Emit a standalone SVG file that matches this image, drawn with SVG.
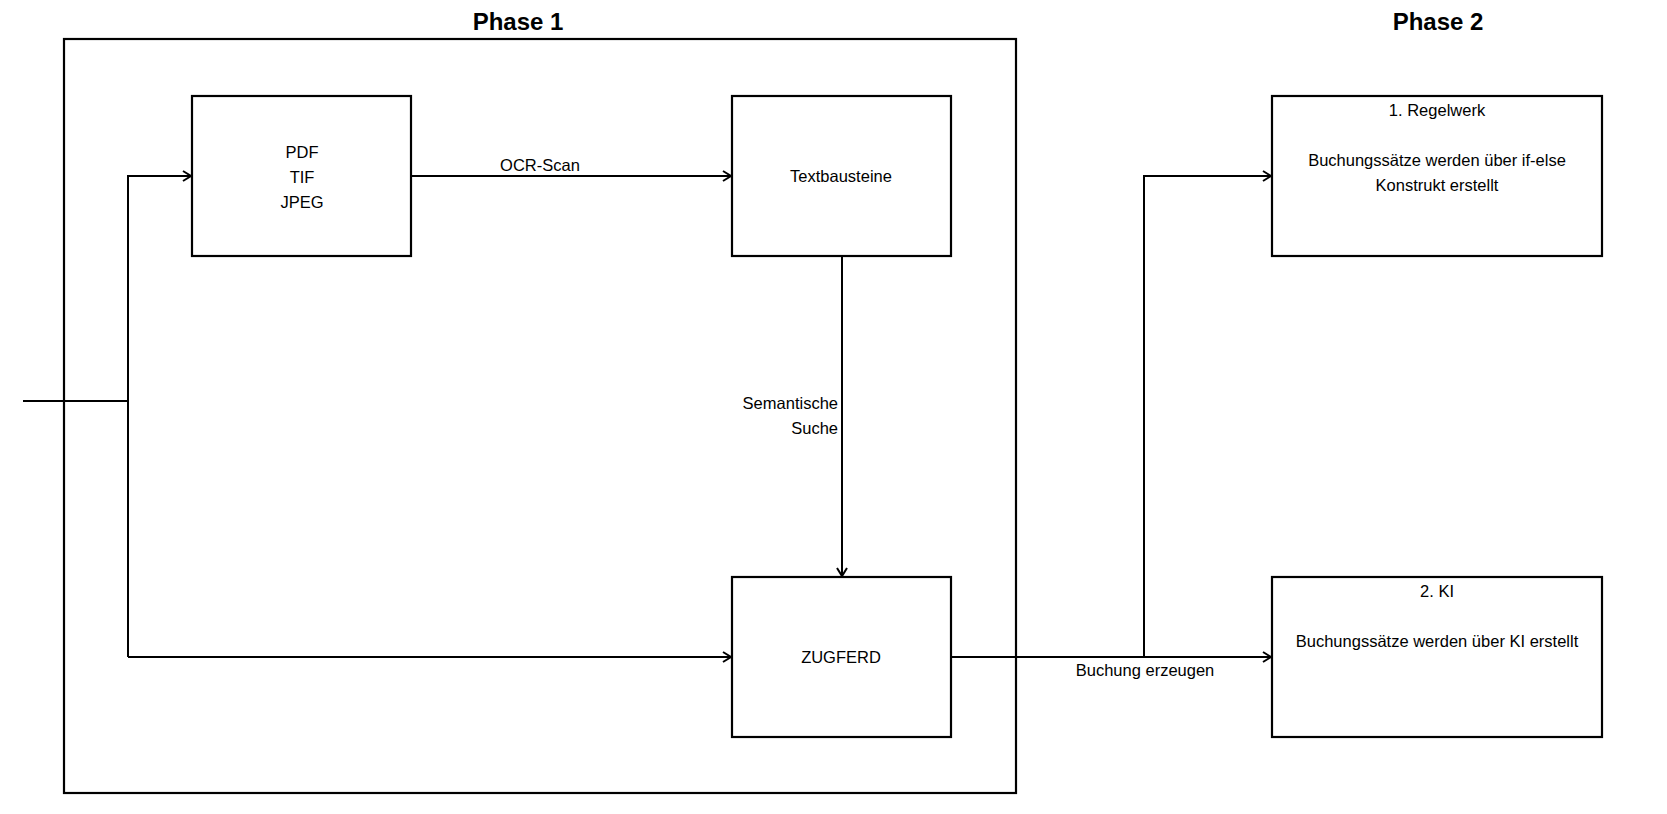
<svg xmlns="http://www.w3.org/2000/svg" width="1667" height="814" viewBox="0 0 1667 814">
  <style>
    .box { fill: #ffffff; stroke: #000000; stroke-width: 2.2; }
    .frame { fill: none; stroke: #000000; stroke-width: 2.2; }
    .conn { fill: none; stroke: #000000; stroke-width: 2; }
    .t { font-family: "Liberation Sans", Arial, sans-serif; font-size: 16.5px; fill: #000000; text-anchor: middle; }
    .tr { text-anchor: end; }
    .title { font-family: "Liberation Sans", Arial, sans-serif; font-size: 24px; font-weight: bold; fill: #000000; text-anchor: middle; }
  </style>
  <defs>
    <marker id="arrow" markerUnits="userSpaceOnUse" markerWidth="12" markerHeight="14" refX="9" refY="6" orient="auto">
      <path d="M1,1 L9,6 L1,11" fill="none" stroke="#000000" stroke-width="2"/>
    </marker>
  </defs>
  <rect width="1667" height="814" fill="#ffffff"/>

  <g id="titles">
    <text class="title" x="518" y="30">Phase 1</text>
    <text class="title" x="1438" y="30">Phase 2</text>
  </g>

  <g id="phase1-frame">
    <rect class="frame" x="64" y="39" width="952" height="754"/>
  </g>

  <g id="node-formats">
    <rect class="box" x="192" y="96" width="219" height="160"/>
    <text class="t" x="302" y="158">PDF</text>
    <text class="t" x="302" y="183">TIF</text>
    <text class="t" x="302" y="208">JPEG</text>
  </g>

  <g id="node-textbausteine">
    <rect class="box" x="732" y="96" width="219" height="160"/>
    <text class="t" x="841" y="182">Textbausteine</text>
  </g>

  <g id="node-zugferd">
    <rect class="box" x="732" y="577" width="219" height="160"/>
    <text class="t" x="841" y="663">ZUGFERD</text>
  </g>

  <g id="node-regelwerk">
    <rect class="box" x="1272" y="96" width="330" height="160"/>
    <text class="t" x="1437" y="116">1. Regelwerk</text>
    <text class="t" x="1437" y="166">Buchungssätze werden über if-else</text>
    <text class="t" x="1437" y="191">Konstrukt erstellt</text>
  </g>

  <g id="node-ki">
    <rect class="box" x="1272" y="577" width="330" height="160"/>
    <text class="t" x="1437" y="597">2. KI</text>
    <text class="t" x="1437" y="647">Buchungssätze werden über KI erstellt</text>
  </g>

  <g id="connectors">
    <path class="conn" d="M23,401 L128,401"/>
    <path class="conn" d="M128,657 L128,176 L191,176" marker-end="url(#arrow)"/>
    <path class="conn" d="M128,657 L731,657" marker-end="url(#arrow)"/>
    <path class="conn" d="M411,176 L731,176" marker-end="url(#arrow)"/>
    <path class="conn" d="M842,256 L842,576" marker-end="url(#arrow)"/>
    <path class="conn" d="M951,657 L1271,657" marker-end="url(#arrow)"/>
    <path class="conn" d="M1144,657 L1144,176 L1271,176" marker-end="url(#arrow)"/>
    <text class="t" x="540" y="171">OCR-Scan</text>
    <text class="t tr" x="838" y="409">Semantische</text>
    <text class="t tr" x="838" y="434">Suche</text>
    <text class="t" x="1145" y="676">Buchung erzeugen</text>
  </g>
</svg>
